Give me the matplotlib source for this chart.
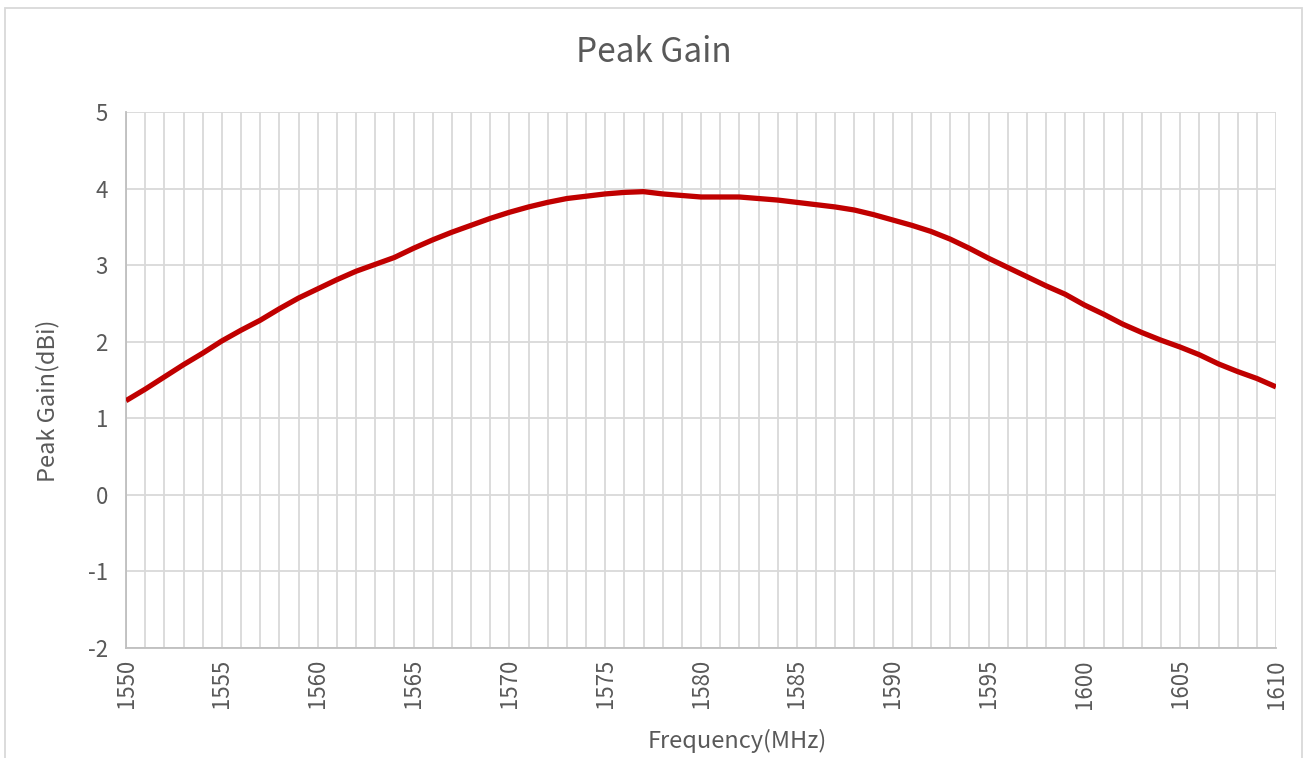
import matplotlib
matplotlib.use('Agg')
import matplotlib.pyplot as plt
from matplotlib.patches import Rectangle
from matplotlib.ticker import MultipleLocator
import numpy as np

plt.rcParams['font.family'] = ['Noto Sans CJK SC', 'DejaVu Sans']
plt.rcParams['font.weight'] = 'light'
plt.rcParams['axes.unicode_minus'] = False

freq = np.arange(1550, 1611, 1)
gain = [1.23, 1.38, 1.54, 1.70, 1.85, 2.01, 2.15, 2.28, 2.43, 2.57,
        2.69, 2.81, 2.92, 3.01, 3.10, 3.22, 3.33, 3.43, 3.52, 3.61,
        3.69, 3.76, 3.82, 3.87, 3.90, 3.93, 3.95, 3.96, 3.93, 3.91,
        3.89, 3.89, 3.89, 3.87, 3.85, 3.82, 3.79, 3.76, 3.72, 3.66,
        3.59, 3.52, 3.44, 3.34, 3.22, 3.09, 2.97, 2.85, 2.73, 2.62,
        2.48, 2.36, 2.23, 2.12, 2.02, 1.93, 1.83, 1.71, 1.61, 1.52,
        1.41]

W, H = 1307, 758
fig = plt.figure(figsize=(W / 100, H / 100), dpi=100)
ax = fig.add_axes([126 / W, 1 - 648 / H, (1276 - 126) / W, (648 - 112) / H])

grid_c = '#D9D9D9'
text_c = '#595959'

ax.plot(freq, gain, color='#C00000', lw=3.8, solid_joinstyle='round', solid_capstyle='butt', zorder=3)

ax.set_xlim(1550, 1610)
ax.set_ylim(-2, 5)
ax.xaxis.set_major_locator(MultipleLocator(5))
ax.xaxis.set_minor_locator(MultipleLocator(1))
ax.yaxis.set_major_locator(MultipleLocator(1))
ax.grid(which='both', axis='x', color=grid_c, lw=1.3)
ax.grid(which='major', axis='y', color=grid_c, lw=1.3)
ax.set_axisbelow(True)

for s in ['top', 'right']:
    ax.spines[s].set_visible(False)
for s in ['left', 'bottom']:
    ax.spines[s].set_color('#BFBFBF')
    ax.spines[s].set_linewidth(1.3)

ax.tick_params(which='both', length=0, colors=text_c, labelsize=16)
ax.tick_params(axis='y', pad=13)
ax.tick_params(axis='x', pad=8)
for lbl in ax.get_xticklabels():
    lbl.set_rotation(90)

fig.text(0.5, 1 - 53 / H, 'Peak Gain', ha='center', va='center', fontsize=24, color=text_c)
fig.text(48 / W, 1 - 401 / H, 'Peak Gain(dBi)', ha='center', va='center', rotation=90, fontsize=17, color=text_c)
fig.text(737 / W, 1 - 741 / H, 'Frequency(MHz)', ha='center', va='center', fontsize=17, color=text_c)

fig.patches.append(Rectangle((5 / W, -0.05), (1302 - 5) / W, 1.05 - 8 / H, transform=fig.transFigure,
                             fill=False, edgecolor=grid_c, lw=1.3))

fig.savefig('out.png', dpi=100)
